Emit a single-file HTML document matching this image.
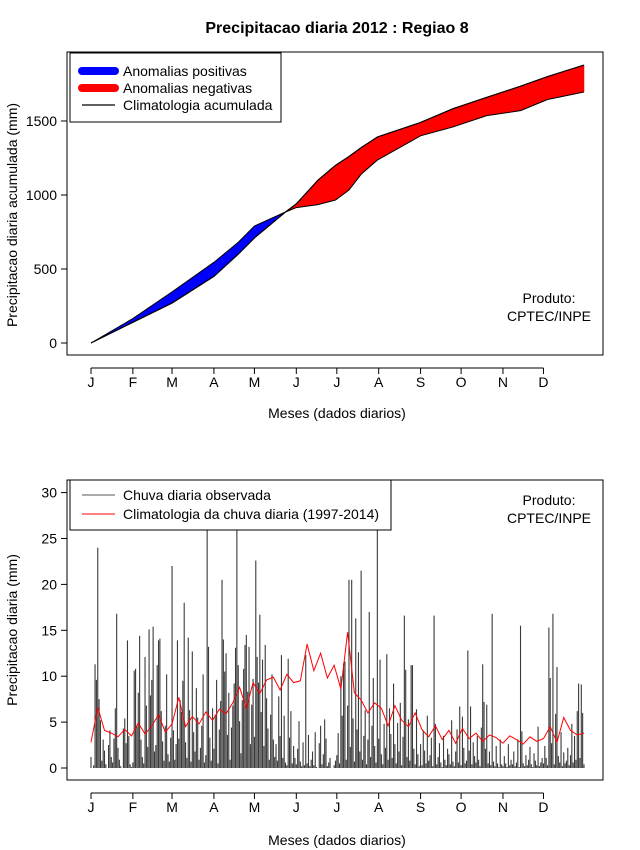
<!DOCTYPE html>
<html><head><meta charset="utf-8">
<style>
body{margin:0;background:#fff;}
svg{display:block;font-family:"Liberation Sans",Arial,sans-serif;}
</style></head>
<body>
<svg id="chart" width="640" height="850" viewBox="0 0 640 850" xmlns="http://www.w3.org/2000/svg">
<defs>
<clipPath id="clipTop"><rect x="67" y="52" width="536" height="303"/></clipPath>
<clipPath id="clipBot"><rect x="67" y="480" width="536" height="300"/></clipPath>
</defs>
<text x="337" y="33" text-anchor="middle" font-size="16" font-weight="bold">Precipitacao diaria 2012 : Regiao 8</text>
<g id="topPanel"></g>
<g id="botPanel"></g>
</svg>
<script>
// ---- top chart data (cumulative, mm) ----
const cumDays = [1,32,61,92,110,122,145,153,169,182,192,201,213,245,269,294,319,339,366];
const obsCum  = [0,165,345,545,680,790,885,915,935,966,1034,1140,1236,1400,1460,1536,1570,1645,1696];
const climCum = [0,140,270,450,600,710,885,940,1100,1200,1260,1320,1392,1490,1583,1660,1735,1800,1878];
const topTicks = [0,500,1000,1500];
const monthLabels = ["J","F","M","A","M","J","J","A","S","O","N","D"];
const monthStartDays = [1,32,61,92,122,153,183,214,245,275,306,336];
const bottomTicks = [0,5,10,15,20,25,30];
// ---- bottom chart data (daily rain, mm) ----
const rainDaily = [
1.2,0,0.3,11.3,9.6,24,7.5,5.2,0.8,3.1,1.9,0.4,0,2.5,4.1,1.2,0.6,3.2,6.5,16.8,2.2,0.9,0.2,0,4.3,5.4,2.7,13.9,3.5,0.4,0.1,
0.6,10.6,10.8,4.5,8.2,14.4,3.1,1.2,0.5,12.1,6.8,2.3,15.1,7.9,9.6,15.4,1.8,2.5,11.2,13.9,14.1,6.2,2.9,0.8,4.6,10.2,1.5,0.7,3.3,
22,4.1,0.9,2.6,13.9,3.2,7.4,6.1,9.5,18,2.8,1.1,14.2,6.3,0.7,12.7,3.9,1.8,8.7,5.5,0.9,2.2,4.6,10.2,0.6,1.4,32,13.2,3.3,0.8,6.5,
2.1,5.8,9.6,0.5,4.2,7.3,20.5,14,10.5,12.5,3.6,8.2,0.9,4.4,6.8,9.2,13.1,32,11.2,5.1,1.6,7.4,10.8,13.4,14.5,8.3,13.2,2.6,6.9,9.7,
3.4,22.6,12.1,9.3,16.7,6.1,11.8,2.4,13.4,7.6,4.3,0.9,5.8,10.2,3.1,1.2,2.6,0.8,7.8,3.5,12.3,1.1,5.7,0.6,0.3,11.9,3.3,6.2,0.5,2.4,1.1,
0.4,2.1,5.1,0.7,0.2,2.8,0.3,12.3,0.5,3.6,0.2,0.9,1.8,0.3,3.9,0.1,0,2.7,4.6,0.4,1.5,5.3,3.2,0.2,0.6,1.1,0,0,0.3,0.8,
1.4,3.8,0.5,10,5.7,11.4,11.6,0.9,6.8,20.5,2.3,20.5,5.4,0.7,16.3,4.2,12.6,1.8,21.5,0.9,3.5,6.3,0.4,3.1,17,1.2,4.6,9.8,2.4,0.6,32,
3.2,11.8,1.5,0.4,4.8,2.2,12.4,0.9,6.5,3.7,1.1,9.2,2.6,0.5,4.9,1.8,7.1,0.3,3.4,16.6,10.7,1.2,5.3,0.8,11.2,11.2,2.1,0.4,6.4,1.5,0.2,
2.6,0.3,4.1,1.9,0.5,5.7,0.8,1.4,3.3,0.2,16.6,4.8,0.4,1.2,2.7,0.6,0.1,3.5,0.9,0.3,2.1,1.5,0.4,5.2,0.7,0.2,1.8,4.2,0.6,6.7,
0.3,5.6,2.2,0.5,0.8,12.8,1.9,6.7,0.4,2.8,1.3,0.6,3.5,0.9,0.2,4.4,11.3,7.2,2.1,6.9,0.5,1.8,0.3,16.8,0.7,0.2,2.4,0.5,0.1,3.1,0.4,
0.2,1.3,0.5,0.1,2.6,0.3,0.9,0.4,1.8,0.2,0.6,3.1,0.1,15.5,4,0.5,0.2,1.4,0.3,0.9,2.3,0.4,0.1,1.6,0.8,0.3,4.5,0.2,0.6,1.1,
0.5,2.4,1.1,0.3,15.3,9.8,2.7,16.8,0.4,5.9,11,1.3,0.6,3.9,0.2,1.7,0.5,0.8,2.2,0.3,1.4,4.8,0.6,3.5,0.9,6.2,9.2,1.1,9.1,6,0.4];
// climatology every 5 days starting day 1
const climStep = 5;
const climDaily = [2.8,6.6,4.1,3.8,3.4,4.2,3.5,
4.9,3.7,4.6,5.8,3.9,4.8,
7.7,4.5,5.6,4.8,6.1,5.2,
6.4,5.9,7.1,8.8,6.5,9.3,
8.1,9.6,9.9,8.5,10.2,9.3,
9.5,13.5,10.6,12.5,9.8,11.2,
8.6,14.8,8.2,7.4,6,7.1,
6.5,4.6,6.8,5.2,4.5,6,
4.2,3.4,4.6,3.1,4.1,2.7,
4.3,3.2,3.8,2.9,3.6,3.3,
2.7,3.5,3.1,2.6,3.4,2.9,
3.2,4.5,2.8,5.5,4.1,3.6,3.8];

const NS="http://www.w3.org/2000/svg";
function mk(tag,attrs,parent,txt){const e=document.createElementNS(NS,tag);for(const k in attrs)e.setAttribute(k,attrs[k]);if(txt!==undefined)e.textContent=txt;parent.appendChild(e);return e;}
const xDay = d => 91 + (d-1)*(493/365);
const yTop = v => 343 - v*0.148;
const yBot = v => 768 - v*9.18;

// ===== TOP =====
const topG=document.getElementById('topPanel');
const topFills=mk('g',{'clip-path':'url(#clipTop)'},topG);


for(let i=0;i<cumDays.length-1;i++){
  const d=(obsCum[i]-climCum[i])+(obsCum[i+1]-climCum[i+1]);
  const p=mk('polygon',{points:`${xDay(cumDays[i])},${yTop(obsCum[i])} ${xDay(cumDays[i+1])},${yTop(obsCum[i+1])} ${xDay(cumDays[i+1])},${yTop(climCum[i+1])} ${xDay(cumDays[i])},${yTop(climCum[i])}`,fill:d>=0?'#0000ff':'#ff0000',stroke:d>=0?'#0000ff':'#ff0000','stroke-width':0.5},topFills);
  
  
}
const obsLine=mk('polyline',{points:cumDays.map((d,i)=>xDay(d)+','+yTop(obsCum[i])).join(' '),fill:'none',stroke:'#000','stroke-width':1},topG);


const climLine=mk('polyline',{points:cumDays.map((d,i)=>xDay(d)+','+yTop(climCum[i])).join(' '),fill:'none',stroke:'#000','stroke-width':1.2},topG);


const tb=mk('rect',{x:67,y:52,width:536,height:303,fill:'none',stroke:'#000','stroke-width':1},topG);


topTicks.forEach(v=>{
  const y=yTop(v);
  mk('line',{x1:61,x2:67,y1:y,y2:y,stroke:'#000'},topG);
  const tl=mk('text',{x:57,y:y+5,'text-anchor':'end','font-size':14},topG,String(v));
  
  
});
function monthAxis(g,yAxis){
  mk('line',{x1:xDay(1),x2:xDay(336),y1:yAxis,y2:yAxis,stroke:'#000'},g);
  monthStartDays.forEach((d,i)=>{
    const x=xDay(d);
    mk('line',{x1:x,x2:x,y1:yAxis,y2:yAxis+6,stroke:'#000'},g);
    const ml=mk('text',{x:x,y:yAxis+19,'text-anchor':'middle','font-size':14},g,monthLabels[i]);
    
    
  });
}
monthAxis(topG,368);
let lbl;
lbl=mk('text',{x:337,y:418,'text-anchor':'middle','font-size':14},topG,'Meses (dados diarios)');


lbl=mk('text',{x:17,y:215,'text-anchor':'middle','font-size':14,transform:'rotate(-90 17 215)'},topG,'Precipitacao diaria acumulada (mm)');


lbl=mk('text',{x:549,y:303,'text-anchor':'middle','font-size':14},topG,'Produto:');


lbl=mk('text',{x:549,y:321,'text-anchor':'middle','font-size':14},topG,'CPTEC/INPE');


const lg=mk('g',{},topG);


mk('rect',{x:70,y:53,width:211,height:69,fill:'#fff',stroke:'#000'},lg);
[['#0000ff',8,'Anomalias positivas',71],['#ff0000',8,'Anomalias negativas',88],['#000',1.3,'Climatologia acumulada',105]].forEach(e=>{
  const it=mk('g',{},lg);
  
  
  mk('line',{x1:82,x2:115,y1:e[3],y2:e[3],stroke:e[0],'stroke-width':e[1],'stroke-linecap':e[1]>2?'round':'butt'},it);
  mk('text',{x:123,y:e[3]+5,'font-size':14},it,e[2]);
});

// ===== BOTTOM =====
const botG=document.getElementById('botPanel');
const bars=mk('g',{'clip-path':'url(#clipBot)'},botG);


rainDaily.forEach((v,i)=>{
  const x=xDay(i+1), y=yBot(v);
  const r=mk('rect',{x:x-0.55,y:y,width:1.1,height:Math.max(0,768-y),fill:'#3a3a3a'},bars);
  
  
});
const cl=mk('polyline',{points:climDaily.map((v,i)=>xDay(1+i*climStep)+','+yBot(v)).join(' '),fill:'none',stroke:'#ff0000','stroke-width':1,'clip-path':'url(#clipBot)'},botG);


const bf=mk('rect',{x:67,y:480,width:536,height:300,fill:'none',stroke:'#000'},botG);


bottomTicks.forEach(v=>{
  const y=yBot(v);
  mk('line',{x1:61,x2:67,y1:y,y2:y,stroke:'#000'},botG);
  const tt=mk('text',{x:57,y:y+5,'text-anchor':'end','font-size':14},botG,String(v));
  
  
});
monthAxis(botG,793);
lbl=mk('text',{x:337,y:845,'text-anchor':'middle','font-size':14},botG,'Meses (dados diarios)');


lbl=mk('text',{x:17,y:630,'text-anchor':'middle','font-size':14,transform:'rotate(-90 17 630)'},botG,'Precipitacao diaria (mm)');


lbl=mk('text',{x:549,y:505,'text-anchor':'middle','font-size':14},botG,'Produto:');


lbl=mk('text',{x:549,y:523,'text-anchor':'middle','font-size':14},botG,'CPTEC/INPE');


const lg2=mk('g',{},botG);


mk('rect',{x:70,y:480,width:321,height:50,fill:'#fff',stroke:'#000'},lg2);
[['#555','Chuva diaria observada',495],['#ff0000','Climatologia da chuva diaria (1997-2014)',514]].forEach(e=>{
  const it=mk('g',{},lg2);
  
  
  mk('line',{x1:82,x2:115,y1:e[2],y2:e[2],stroke:e[0],'stroke-width':1},it);
  mk('text',{x:123,y:e[2]+5,'font-size':14},it,e[1]);
});
</script>
</body></html>
